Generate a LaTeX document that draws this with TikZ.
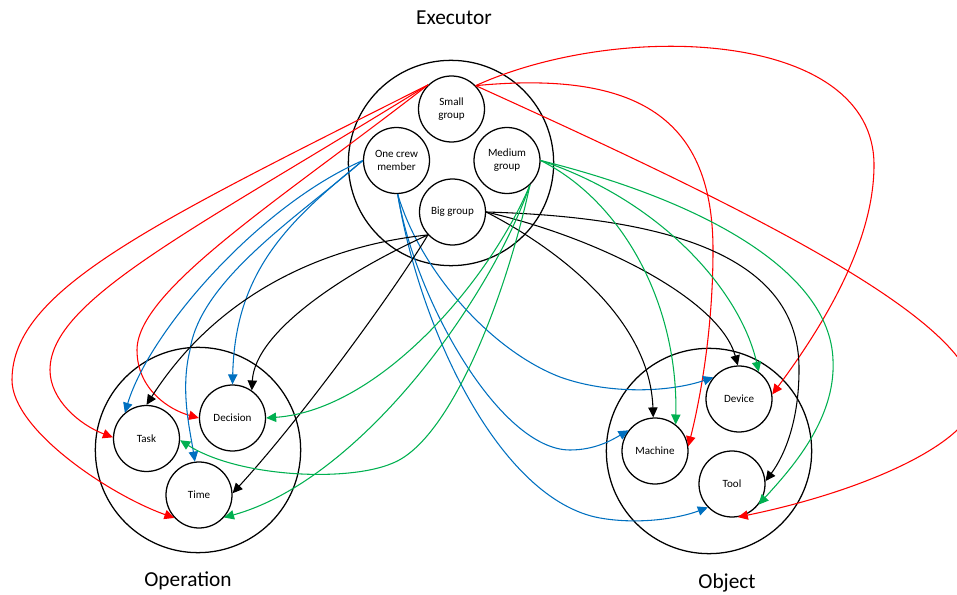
\documentclass[tikz,border=0pt]{standalone}
\usepackage{fontspec}
\setmainfont{Carlito}
\usetikzlibrary{arrows.meta}
\definecolor{cred}{RGB}{255,0,0}
\definecolor{cblue}{RGB}{0,112,192}
\definecolor{cgreen}{RGB}{0,176,80}
\begin{document}
\begin{tikzpicture}[x=0.75pt,y=-0.75pt,
  sub/.style={circle,draw,line width=0.95pt,minimum size=49.5pt,inner sep=0pt,align=center,font=\fontsize{8.3}{9.8}\selectfont},
  grp/.style={circle,draw,line width=0.95pt,minimum size=154pt,inner sep=0pt},
  ttl/.style={font=\fontsize{16}{19}\selectfont},
  con/.style={line width=0.8pt,-{Triangle[length=7.5pt,width=7pt]}},
  rcon/.style={con,draw=cred},
  bcon/.style={con,draw=cblue},
  gcon/.style={con,draw=cgreen},
  kcon/.style={con,draw=black}]
\useasboundingbox (0,0) rectangle (957,595);
\clip (0,0) rectangle (957,595);
% groups
\node[grp] (exe) at (451,163) {};
\node[grp] (ope) at (198,450) {};
\node[grp] (obj) at (709,451) {};
\node[ttl] (tE) at (454,18) {Executor};
\node[ttl] (tOp) at (188,581) {Operation};
\node[ttl] (tOb) at (727,583) {Object};
% executor members
\node[sub] (sg) at (451.5,109) {Small\\group};
\node[sub] (ocm) at (396.5,160.5) {One crew\\member};
\node[sub] (mg) at (507,160.5) {Medium\\group};
\node[sub] (bg) at (452.5,212) {Big group};
% operation members
\node[sub] (task) at (146.5,438.5) {Task};
\node[sub] (dec) at (232.5,418) {Decision};
\node[sub] (time) at (199,495) {Time};
% object members
\node[sub] (dev) at (739,399) {Device};
\node[sub] (mac) at (655,451) {Machine};
\node[sub] (tool) at (732,484) {Tool};
% intermediate coordinates
\coordinate (r1m) at (12,380);
\coordinate (r2m) at (50,370);
\coordinate (r3m) at (137,350);
\coordinate (r4m) at (874,165);
\coordinate (r5m) at (713,250);
\coordinate (r6m) at (975,398);
\coordinate (b2m) at (190,350);
\coordinate (b4m) at (560,377);
\coordinate (b5m) at (570,450);
\coordinate (b6m) at (600,518);
\coordinate (g2m) at (393,463);
\coordinate (g6m) at (833,360);
\coordinate (k6m) at (799,370);
% red: small group
\draw[rcon] (sg.134) .. controls (150,225) and (12,290) .. (r1m) .. controls (12,430) and (110,495) .. (time.223);
\draw[rcon] (sg.134) .. controls (192,231) and (50,300) .. (r2m) .. controls (50,400) and (80,425) .. (task.178);
\draw[rcon] (sg.134) .. controls (280,200) and (137,290) .. (r3m) .. controls (137,390) and (170,410) .. (dec.180);
\draw[rcon] (sg.44) .. controls (620,20) and (874,30) .. (r4m) .. controls (874,245) and (820,330) .. (dev.8);
\draw[rcon] (sg.44) .. controls (640,70) and (713,120) .. (r5m) .. controls (713,330) and (700,400) .. (mac.8);
\draw[rcon] (sg.44) .. controls (750,210) and (975,320) .. (r6m) .. controls (975,440) and (870,490) .. (tool.280);
% blue: one crew member
\draw[bcon] (ocm.180) .. controls (260,205) and (150,330) .. (task.130);
\draw[bcon] (ocm.180) .. controls (300,215) and (200,280) .. (b2m) .. controls (180,390) and (190,430) .. (time.97);
\draw[bcon] (ocm.180) .. controls (290,220) and (235,270) .. (dec.90);
\draw[bcon] (ocm.272) .. controls (420,270) and (490,350) .. (b4m) .. controls (610,395) and (670,392) .. (dev.140);
\draw[bcon] (ocm.272) .. controls (415,300) and (500,450) .. (b5m) .. controls (595,450) and (612,440) .. (mac.142);
\draw[bcon] (ocm.272) .. controls (420,330) and (500,500) .. (b6m) .. controls (640,525) and (680,518) .. (tool.224);
% black: big group
\draw[kcon] (bg.223) .. controls (330,245) and (220,290) .. (task.90);
\draw[kcon] (bg.223) .. controls (350,270) and (255,330) .. (dec.55);
\draw[kcon] (bg.223) .. controls (395,290) and (300,420) .. (time.3);
\draw[kcon] (bg.0) .. controls (560,250) and (650,320) .. (mac.93);
\draw[kcon] (bg.0) .. controls (600,238) and (720,300) .. (dev.92);
\draw[kcon] (bg.0) .. controls (700,218) and (800,270) .. (k6m) .. controls (799,420) and (785,455) .. (tool.5);
% green: medium group
\draw[gcon] (mg.313) .. controls (490,280) and (380,410) .. (dec.0);
\draw[gcon] (mg.313) .. controls (505,300) and (450,440) .. (g2m) .. controls (350,482) and (240,478) .. (task.357);
\draw[gcon] (mg.313) .. controls (490,300) and (360,480) .. (time.318);
\draw[gcon] (mg.0) .. controls (620,200) and (678,300) .. (mac.52);
\draw[gcon] (mg.0) .. controls (660,200) and (740,290) .. (dev.54);
\draw[gcon] (mg.0) .. controls (700,200) and (830,270) .. (g6m) .. controls (836,420) and (790,470) .. (tool.322);
\end{tikzpicture}
\end{document}
